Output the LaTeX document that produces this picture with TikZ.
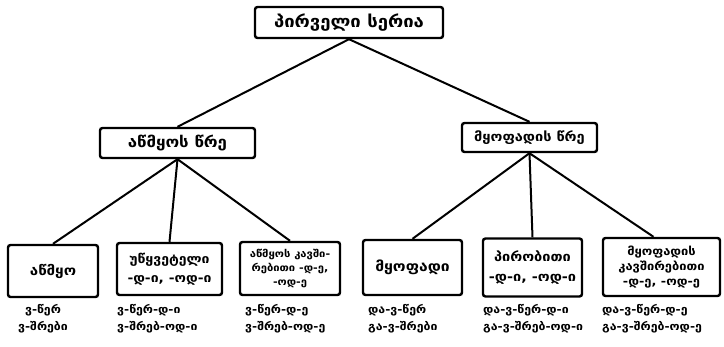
\documentclass[tikz,border=0pt]{standalone}
\usepackage{fontspec}
\setmainfont{DejaVu Sans}
\newfontfamily\geo[FakeStretch=1.12]{DejaVu Sans}
\begin{document}
\begin{tikzpicture}[x=1pt,y=-1pt,
  box/.style={draw,line width=2.4pt,rounded corners=2.5pt,inner sep=2pt,align=center},
  conn/.style={line width=2pt},
  captext/.style={align=left,font=\geo\bfseries\fontsize{11}{17}\selectfont,inner sep=0pt,anchor=north west}]
\useasboundingbox (0,0) rectangle (724,346);
\node[box,minimum width=188pt,minimum height=31pt,font=\geo\bfseries\fontsize{16.5}{18}\selectfont] (top) at (349,22.5) {პირველი სერია};
\node[box,minimum width=155pt,minimum height=30pt,font=\geo\bfseries\fontsize{15}{17}\selectfont] (L) at (177.5,143) {აწმყოს წრე};
\node[box,minimum width=135pt,minimum height=29pt,font=\geo\bfseries\fontsize{13}{15}\selectfont] (R) at (529.5,137.5) {მყოფადის წრე};
\node[box,minimum width=90pt,minimum height=52pt,font=\geo\bfseries\fontsize{13.5}{15}\selectfont] (b1) at (53,271) {აწმყო};
\node[box,minimum width=105pt,minimum height=52pt,font=\geo\bfseries\fontsize{12.5}{19}\selectfont] (b2) at (169.5,269) {უწყვეტელი\\-დ-ი, -ოდ-ი};
\node[box,minimum width=100pt,minimum height=53pt,font=\geo\bfseries\fontsize{10}{14}\selectfont] (b3) at (290,268.5) {აწმყოს კავში-\\რებითი -დ-ე,\\-ოდ-ე};
\node[box,minimum width=99pt,minimum height=55pt,font=\geo\bfseries\fontsize{14}{16}\selectfont] (b4) at (412.5,267.5) {მყოფადი};
\node[box,minimum width=99pt,minimum height=58pt,font=\geo\bfseries\fontsize{13}{20}\selectfont] (b5) at (532.5,267.5) {პირობითი\\-დ-ი, -ოდ-ი};
\node[box,minimum width=117pt,minimum height=58pt,font=\geo\bfseries\fontsize{11.5}{15}\selectfont] (b6) at (661.5,267) {მყოფადის\\კავშირებითი\\-დ-ე, -ოდ-ე};
\draw[conn] (top.south) -- (L.north);
\draw[conn] (top.south) -- (R.north);
\draw[conn] (L.south) -- (b1.north);
\draw[conn] (L.south) -- (b2.north);
\draw[conn] (L.south) -- (b3.north);
\draw[conn] (R.south) -- (b4.north);
\draw[conn] (R.south) -- (b5.north);
\draw[conn] (R.south) -- ([xshift=-8pt]b6.north);
\node[captext,anchor=north,align=center] (c1) at (43,304) {ვ-წერ\\ვ-შრები};
\node[captext] (c2) at (117,304) {ვ-წერ-დ-ი\\ვ-შრებ-ოდ-ი};
\node[captext] (c3) at (245,304) {ვ-წერ-დ-ე\\ვ-შრებ-ოდ-ე};
\node[captext] (c4) at (368,304) {და-ვ-წერ\\გა-ვ-შრები};
\node[captext] (c5) at (483,304) {და-ვ-წერ-დ-ი\\გა-ვ-შრებ-ოდ-ი};
\node[captext] (c6) at (602,304) {და-ვ-წერ-დ-ე\\გა-ვ-შრებ-ოდ-ე};
\end{tikzpicture}
\end{document}
